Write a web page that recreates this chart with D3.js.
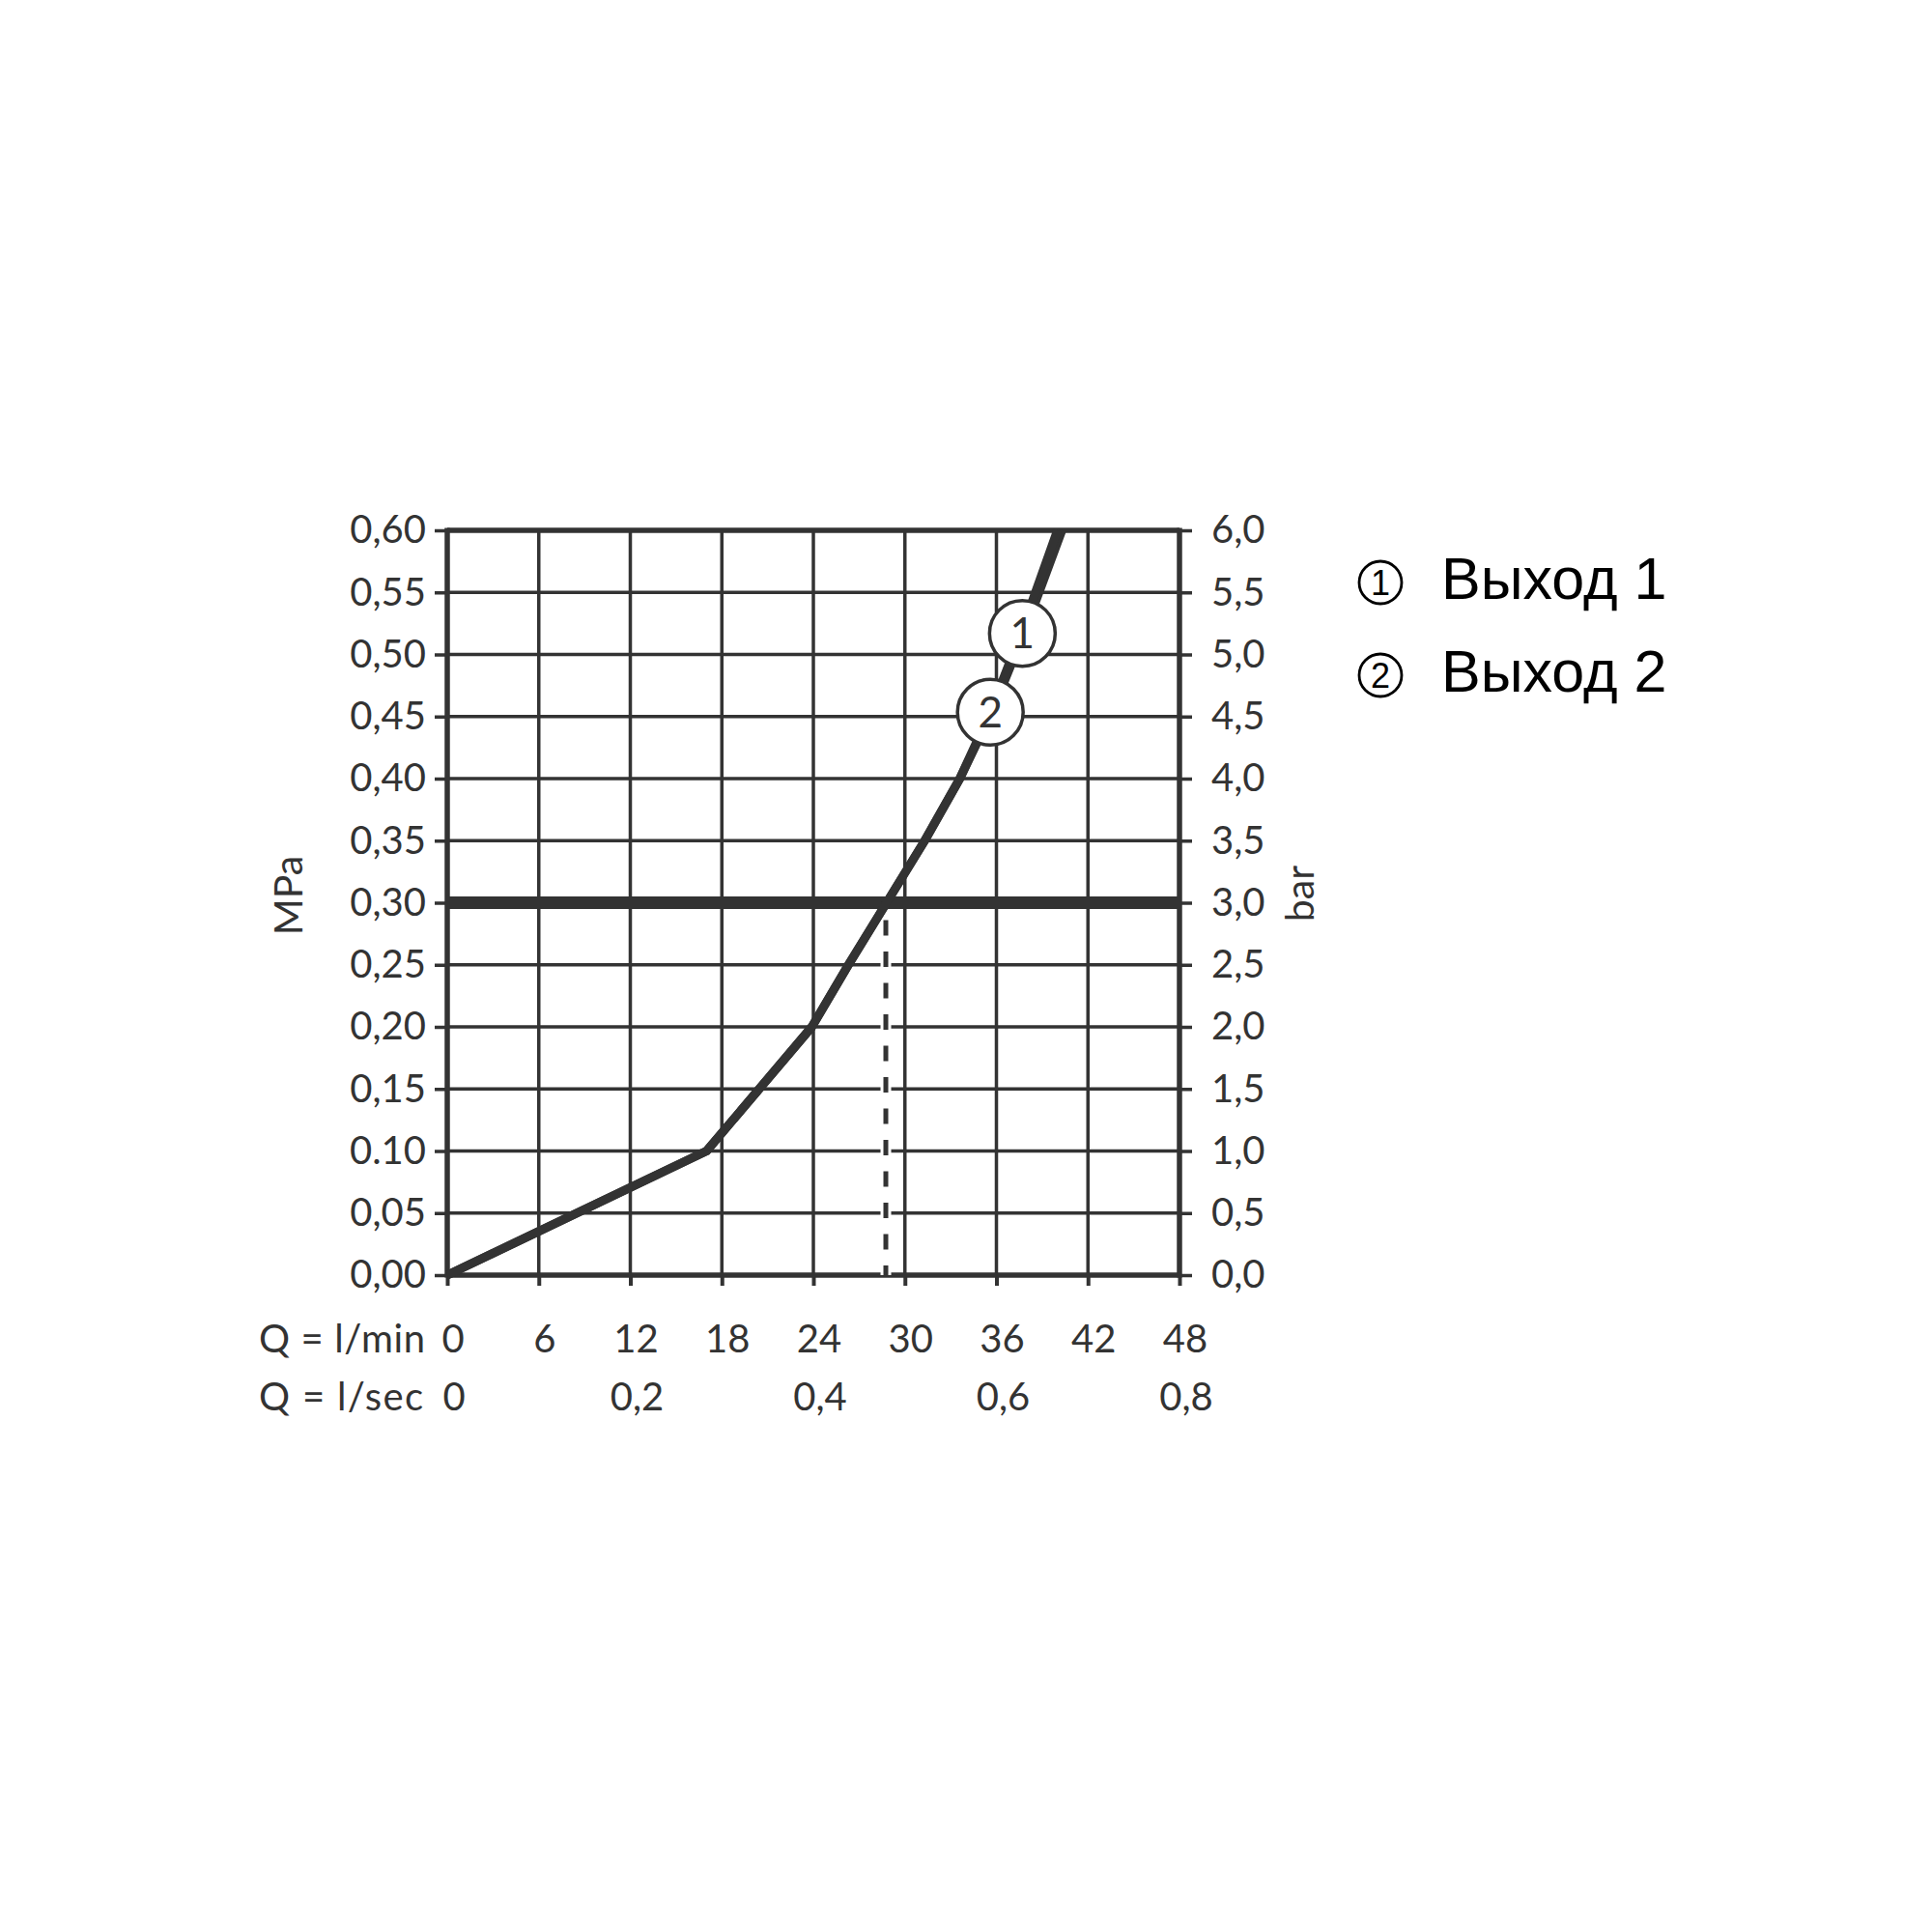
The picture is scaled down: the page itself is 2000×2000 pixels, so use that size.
<!DOCTYPE html>
<html>
<head>
<meta charset="utf-8">
<script src="https://cdn.jsdelivr.net/npm/d3@7/dist/d3.min.js"></script>
<style>
  html, body { margin: 0; padding: 0; background: #ffffff; }
  svg { display: block; }
</style>
</head>
<body>
<svg id="chart" width="2000" height="2000"></svg>
<script>
// ---------- DATA ----------
const flowTicks = [0, 6, 12, 18, 24, 30, 36, 42, 48];            // l/min
const flowSecTicks = [0, 0.2, 0.4, 0.6, 0.8];                    // l/sec
const mpaTicks = [0, 0.05, 0.10, 0.15, 0.20, 0.25, 0.30, 0.35, 0.40, 0.45, 0.50, 0.55, 0.60];
const barTicks = [0, 0.5, 1.0, 1.5, 2.0, 2.5, 3.0, 3.5, 4.0, 4.5, 5.0, 5.5, 6.0];
const mpaTickLabels = ["0,00","0,05","0.10","0,15","0,20","0,25","0,30","0,35","0,40","0,45","0,50","0,55","0,60"];

// Outlet curves: flow (l/min) vs pressure (MPa)
const outlet1Flow = [0, 17.0, 23.9, 26.3, 28.8, 31.3, 33.6, 35.7, 37.8, 40.3];
const outlet1Pres = [0, 0.10, 0.20, 0.25, 0.30, 0.35, 0.40, 0.4535, 0.517, 0.60];
const outlet2Flow = [0, 17.0, 23.9, 26.3, 28.8, 31.3, 33.6, 35.6, 37.6, 40.0];
const outlet2Pres = [0, 0.10, 0.20, 0.25, 0.30, 0.35, 0.40, 0.4535, 0.517, 0.60];

const curveLabels = ["1", "2"];
const curveLabelFlow = [37.7, 35.6];
const curveLabelPres = [0.517, 0.4535];

const refPressure = 0.30;   // MPa (bold line)
const refFlow = 28.75;      // l/min (dashed line)

const legendLabels = ["Выход 1", "Выход 2"];
const legendNums = ["1", "2"];

// ---------- LAYOUT ----------
const ink = "#333333";
const svg = d3.select("#chart");
const x = d3.scaleLinear().domain([0, 48]).range([463, 1221]);
const xSec = d3.scaleLinear().domain([0, 0.8]).range([463, 1221]);
const y = d3.scaleLinear().domain([0, 0.6]).range([1320, 549]);
const yBar = d3.scaleLinear().domain([0, 6]).range([1320, 549]);
const fontMain = "Lato, 'Open Sans', sans-serif";
const locale = d3.formatLocale({decimal: ",", thousands: " ", grouping: [3], currency: ["", ""]});
const fmtBar = locale.format(".1f");
const fmtSec = v => v === 0 ? "0" : locale.format(".1f")(v);

// Grid lines
const grid = svg.append("g");
grid.selectAll("line.h").data(mpaTicks).join("line")
  .attr("x1", x(0)).attr("x2", x(48))
  .attr("y1", d => y(d)).attr("y2", d => y(d))
  .attr("stroke", ink).attr("stroke-width", 3.5);
grid.selectAll("line.v").data(flowTicks).join("line")
  .attr("y1", y(0)).attr("y2", y(0.6))
  .attr("x1", d => x(d)).attr("x2", d => x(d))
  .attr("stroke", ink).attr("stroke-width", 3.5);

// Left axis (MPa)
const leftAxis = d3.axisLeft(y).tickValues(mpaTicks).tickSize(13).tickPadding(9)
  .tickFormat((d, i) => mpaTickLabels[i]);
const gl = svg.append("g").attr("transform", `translate(${x(0)},0)`).call(leftAxis);
// Right axis (bar)
const rightAxis = d3.axisRight(yBar).tickValues(barTicks).tickSize(13).tickPadding(20)
  .tickFormat(fmtBar);
const gr = svg.append("g").attr("transform", `translate(${x(48)},0)`).call(rightAxis);
// Bottom axis (ticks only)
const bottomAxis = d3.axisBottom(x).tickValues(flowTicks).tickSize(11).tickFormat("");
const gb = svg.append("g").attr("transform", `translate(0,${y(0)})`).call(bottomAxis);

[gl, gr, gb].forEach(g => {
  g.select(".domain").remove();
  g.selectAll(".tick line").attr("stroke", ink).attr("stroke-width", 3.5);
  g.selectAll(".tick text").attr("fill", ink).style("font-family", fontMain).style("font-size", "40px");
});
gb.selectAll(".tick line").attr("stroke-width", 4);

// Frame
const frame = svg.append("g");
frame.append("line").attr("x1", x(0)).attr("x2", x(0)).attr("y1", y(0) + 2.5).attr("y2", y(0.6) - 2.5);
frame.append("line").attr("x1", x(48)).attr("x2", x(48)).attr("y1", y(0) + 2.5).attr("y2", y(0.6) - 2.5);
frame.append("line").attr("x1", x(0)).attr("x2", x(48)).attr("y1", y(0)).attr("y2", y(0));
frame.append("line").attr("x1", x(0)).attr("x2", x(48)).attr("y1", y(0.6)).attr("y2", y(0.6));
frame.selectAll("line").attr("stroke", ink).attr("stroke-width", 5.5);

// Bold reference line at 0.30 MPa
svg.append("line")
  .attr("x1", x(0)).attr("x2", x(48))
  .attr("y1", y(refPressure)).attr("y2", y(refPressure))
  .attr("stroke", ink).attr("stroke-width", 13);

// Dashed reference flow line
const dashG = svg.append("g");
dashG.append("line")
  .attr("x1", x(refFlow)).attr("x2", x(refFlow))
  .attr("y1", y(0)).attr("y2", y(refPressure) + 6.5)
  .attr("stroke", "#ffffff").attr("stroke-width", 11)
  .attr("stroke-dasharray", "20,12.5").attr("stroke-dashoffset", 8);
dashG.append("line")
  .attr("x1", x(refFlow)).attr("x2", x(refFlow))
  .attr("y1", y(0)).attr("y2", y(refPressure) + 6.5)
  .attr("stroke", ink).attr("stroke-width", 5)
  .attr("stroke-dasharray", "16,16.5").attr("stroke-dashoffset", 6);

// Curves
const line = d3.line().x(d => x(d[0])).y(d => y(d[1]));
const series = [
  d3.zip(outlet1Flow, outlet1Pres),
  d3.zip(outlet2Flow, outlet2Pres)
];
svg.append("g").selectAll("path").data(series).join("path")
  .attr("d", line)
  .attr("fill", "none").attr("stroke", ink).attr("stroke-width", 9)
  .attr("stroke-linejoin", "round").attr("stroke-linecap", "butt");

// Curve labels (circled numbers)
const cl = svg.append("g").selectAll("g").data(curveLabels).join("g")
  .attr("transform", (d, i) => `translate(${x(curveLabelFlow[i])},${y(curveLabelPres[i])})`);
cl.append("circle").attr("r", 34).attr("fill", "#ffffff").attr("stroke", ink).attr("stroke-width", 3.5);
cl.append("text").text(d => d)
  .attr("text-anchor", "middle").attr("dy", "0.36em")
  .attr("fill", ink).style("font-family", fontMain).style("font-size", "44px");

// Bottom label rows
const rowY1 = 1400, rowY2 = 1460;
svg.append("text").attr("x", 268).attr("y", rowY1).text("Q = l/min")
  .attr("fill", ink).style("font-family", fontMain).style("font-size", "40px")
  .attr("textLength", 172).attr("lengthAdjust", "spacing");
svg.append("text").attr("x", 268).attr("y", rowY2).text("Q = l/sec")
  .attr("fill", ink).style("font-family", fontMain).style("font-size", "40px")
  .attr("textLength", 170).attr("lengthAdjust", "spacing");
svg.append("g").selectAll("text").data(flowTicks).join("text")
  .attr("x", d => x(d) + 6).attr("y", rowY1).attr("text-anchor", "middle")
  .text(d => d).attr("fill", ink).style("font-family", fontMain).style("font-size", "40px");
svg.append("g").selectAll("text").data(flowSecTicks).join("text")
  .attr("x", d => xSec(d) + 7).attr("y", rowY2).attr("text-anchor", "middle")
  .text(fmtSec).attr("fill", ink).style("font-family", fontMain).style("font-size", "40px");

// Axis titles
svg.append("text").text("MPa")
  .attr("transform", `translate(313,927) rotate(-90)`)
  .attr("text-anchor", "middle")
  .attr("fill", ink).style("font-family", fontMain).style("font-size", "41px");
svg.append("text").text("bar")
  .attr("transform", `translate(1360,925) rotate(-90)`)
  .attr("text-anchor", "middle")
  .attr("fill", ink).style("font-family", fontMain).style("font-size", "41px");

// Legend
const lg = svg.append("g").selectAll("g").data(legendLabels).join("g")
  .attr("transform", (d, i) => `translate(0,${620 + i * 96})`);
lg.append("circle").attr("cx", 1429).attr("cy", -17).attr("r", 22)
  .attr("fill", "none").attr("stroke", "#000").attr("stroke-width", 2.8);
lg.append("text").text((d, i) => legendNums[i])
  .attr("x", 1429).attr("y", -17).attr("dy", "0.36em").attr("text-anchor", "middle")
  .attr("fill", "#000").style("font-family", "'Liberation Sans', Arial, sans-serif").style("font-size", "36px");
lg.append("text").text(d => d)
  .attr("x", 1492).attr("y", 0)
  .attr("fill", "#000").style("font-family", "'Liberation Sans', Arial, sans-serif").style("font-size", "61px");
</script>
</body>
</html>
